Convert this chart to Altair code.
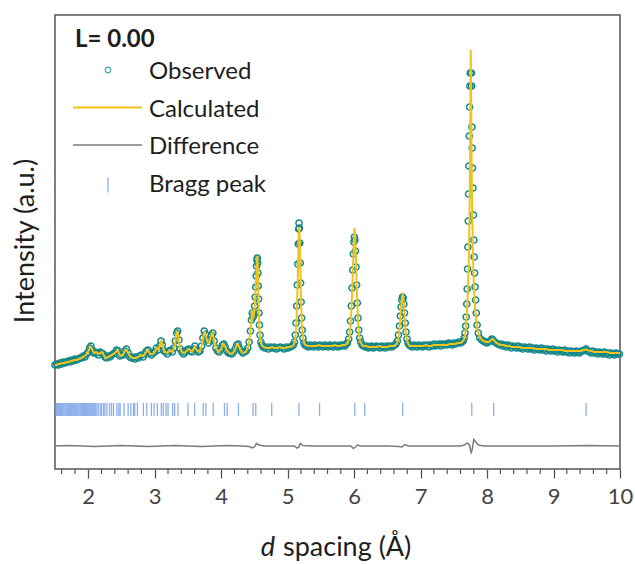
import altair as alt
import pandas as pd

# ---------------- data ----------------
# Observed points, (d spacing in Å, intensity a.u.)
obs_low = [
    (1.500, 104), (1.525, 105), (1.550, 104), (1.575, 106), (1.600, 105), (1.625, 107), (1.650, 106),
    (1.675, 107), (1.700, 108), (1.725, 107), (1.750, 109), (1.775, 108), (1.800, 110), (1.825, 109),
    (1.850, 110), (1.875, 111), (1.900, 111), (1.925, 113), (1.950, 112), (1.975, 115), (2.000, 117),
    (2.020, 121), (2.040, 123), (2.060, 119), (2.080, 116), (2.100, 117), (2.125, 116), (2.150, 114),
    (2.175, 117), (2.200, 116), (2.225, 115), (2.250, 112), (2.275, 111), (2.300, 113), (2.325, 112),
    (2.350, 114), (2.375, 115), (2.400, 116), (2.425, 119), (2.450, 118), (2.475, 113), (2.500, 114),
    (2.525, 114), (2.550, 118), (2.575, 120), (2.600, 116), (2.625, 112), (2.650, 111), (2.675, 112),
    (2.700, 110), (2.725, 112), (2.750, 111), (2.775, 113), (2.800, 114), (2.825, 112), (2.850, 115),
    (2.875, 118), (2.900, 119), (2.925, 116), (2.950, 114), (2.975, 116), (3.000, 117), (3.025, 121),
    (3.050, 119), (3.075, 123), (3.095, 128), (3.115, 124), (3.140, 118), (3.165, 117), (3.190, 115),
    (3.215, 118), (3.240, 119), (3.265, 117), (3.290, 121), (3.310, 128), (3.330, 136), (3.345, 138),
    (3.365, 129), (3.385, 120), (3.410, 117), (3.435, 115), (3.460, 117), (3.485, 119), (3.510, 120),
    (3.535, 118), (3.560, 117), (3.585, 120), (3.605, 123), (3.630, 119), (3.655, 117), (3.680, 118),
    (3.705, 123), (3.725, 131), (3.745, 138), (3.765, 135), (3.785, 129), (3.810, 126), (3.835, 129),
    (3.855, 134), (3.875, 136), (3.895, 128), (3.920, 121), (3.945, 118), (3.970, 117), (3.995, 120),
    (4.020, 124), (4.040, 125), (4.060, 122), (4.085, 118), (4.110, 116), (4.135, 116), (4.160, 115),
    (4.185, 117), (4.210, 120), (4.235, 124), (4.255, 125), (4.275, 121), (4.300, 118), (4.325, 116),
    (4.350, 117), (4.375, 118), (4.400, 121),
]
obs_peaks_a = [
    (4.420, 127), (4.440, 138), (4.455, 149), (4.468, 156), (4.480, 152), (4.492, 155), (4.503, 163),
    (4.512, 172), (4.520, 182), (4.527, 193), (4.533, 203), (4.538, 209), (4.543, 211), (4.548, 206),
    (4.553, 196), (4.558, 183), (4.563, 170), (4.569, 156), (4.576, 144), (4.585, 134), (4.597, 127),
    (4.612, 124), (4.630, 122),
    (4.655, 121), (4.680, 122), (4.710, 120), (4.740, 122), (4.770, 121), (4.800, 122), (4.830, 120),
    (4.860, 121), (4.890, 122), (4.920, 121), (4.950, 120), (4.980, 122), (5.010, 121), (5.040, 122),
    (5.065, 123),
    (5.085, 124), (5.102, 127), (5.115, 134), (5.126, 146), (5.136, 163), (5.145, 184), (5.153, 205),
    (5.160, 225), (5.166, 240), (5.171, 246), (5.177, 241), (5.183, 226), (5.189, 206), (5.195, 186),
    (5.202, 167), (5.210, 151), (5.219, 139), (5.230, 131), (5.244, 126), (5.260, 124),
]
obs_peaks_b = [
    (5.285, 123), (5.310, 122), (5.335, 124), (5.360, 123), (5.385, 122), (5.410, 124), (5.435, 123),
    (5.460, 122), (5.485, 124), (5.510, 123), (5.535, 122), (5.560, 124), (5.585, 123), (5.610, 122),
    (5.635, 124), (5.660, 123), (5.685, 122), (5.710, 124), (5.735, 123), (5.760, 122), (5.785, 124),
    (5.810, 123), (5.835, 124), (5.860, 123), (5.880, 125),
    (5.900, 126), (5.918, 130), (5.933, 137), (5.946, 148), (5.958, 163), (5.969, 181), (5.979, 199),
    (5.988, 215), (5.996, 227), (6.004, 232), (6.012, 229), (6.020, 218), (6.028, 202), (6.037, 184),
    (6.047, 166), (6.058, 151), (6.070, 139), (6.084, 131), (6.100, 127), (6.120, 124), (6.140, 123),
    (6.165, 122), (6.190, 123), (6.215, 121), (6.240, 122), (6.265, 123), (6.290, 121), (6.315, 122),
    (6.340, 123), (6.365, 122), (6.390, 121), (6.415, 123), (6.440, 122), (6.465, 121), (6.490, 123),
    (6.515, 122), (6.540, 123), (6.565, 122), (6.590, 123), (6.610, 124),
    (6.630, 125), (6.650, 128), (6.667, 134), (6.682, 143), (6.695, 153), (6.707, 162), (6.718, 169),
    (6.728, 172), (6.738, 171), (6.748, 165), (6.758, 156), (6.769, 146), (6.781, 137), (6.795, 130),
    (6.811, 126), (6.830, 124), (6.850, 123),
]
obs_peaks_c = [
    (6.875, 122), (6.900, 124), (6.925, 123), (6.950, 122), (6.975, 124), (7.000, 123), (7.025, 122),
    (7.050, 124), (7.075, 123), (7.100, 124), (7.125, 122), (7.150, 124), (7.175, 123), (7.200, 125),
    (7.225, 123), (7.250, 124), (7.275, 125), (7.300, 123), (7.325, 125), (7.350, 124), (7.375, 125),
    (7.400, 124), (7.425, 126), (7.450, 125), (7.475, 124), (7.500, 126), (7.525, 125), (7.550, 126),
    (7.575, 127), (7.600, 126), (7.620, 127),
    (7.640, 128), (7.655, 131), (7.668, 136), (7.678, 143), (7.686, 152), (7.694, 165), (7.701, 180),
    (7.707, 200), (7.712, 222), (7.717, 248), (7.722, 275), (7.727, 303), (7.732, 333), (7.737, 362),
    (7.742, 383), (7.747, 396),
    (7.765, 396), (7.768, 383), (7.772, 342), (7.776, 321), (7.781, 301), (7.787, 281), (7.794, 254),
    (7.800, 229), (7.806, 212), (7.813, 196), (7.820, 182), (7.828, 169), (7.838, 156), (7.850, 144),
    (7.868, 136), (7.890, 131), (7.920, 129),
]
obs_high = [
    (7.945, 128), (7.970, 127), (7.995, 126), (8.020, 127), (8.045, 128), (8.070, 130), (8.090, 129),
    (8.115, 127), (8.140, 126), (8.165, 125), (8.190, 124), (8.215, 125), (8.240, 123), (8.265, 124),
    (8.290, 122), (8.315, 124), (8.340, 123), (8.365, 121), (8.390, 123), (8.415, 122), (8.440, 121),
    (8.465, 123), (8.490, 121), (8.515, 122), (8.540, 120), (8.565, 122), (8.590, 121), (8.615, 120),
    (8.640, 122), (8.665, 120), (8.690, 121), (8.715, 119), (8.740, 121), (8.765, 120), (8.790, 119),
    (8.815, 121), (8.840, 119), (8.865, 120), (8.890, 118), (8.915, 120), (8.940, 119), (8.965, 118),
    (8.990, 120), (9.015, 118), (9.040, 119), (9.065, 117), (9.090, 119), (9.115, 118), (9.140, 117),
    (9.165, 119), (9.190, 117), (9.215, 118), (9.240, 116), (9.265, 118), (9.290, 117), (9.315, 116),
    (9.340, 118), (9.365, 117), (9.390, 116), (9.415, 118), (9.440, 118), (9.465, 119), (9.490, 120),
    (9.515, 118), (9.540, 117), (9.565, 116), (9.590, 118), (9.615, 116), (9.640, 117), (9.665, 115),
    (9.690, 117), (9.715, 116), (9.740, 115), (9.765, 117), (9.790, 115), (9.815, 116), (9.840, 114),
    (9.865, 116), (9.890, 115), (9.915, 114), (9.940, 116), (9.965, 115), (9.990, 115),
]

# Calculated profile
calc_low = [
    (1.50, 104), (1.53, 104.5), (1.56, 105), (1.59, 105.5), (1.62, 106), (1.65, 106), (1.68, 107),
    (1.71, 107), (1.74, 108), (1.77, 108.5), (1.80, 109), (1.83, 109), (1.86, 110), (1.89, 111),
    (1.92, 112), (1.95, 113), (1.98, 115), (2.01, 119), (2.03, 122), (2.05, 121), (2.07, 118),
    (2.09, 116), (2.12, 117), (2.15, 115), (2.18, 116), (2.21, 117), (2.24, 113), (2.27, 111),
    (2.30, 112), (2.33, 113), (2.36, 114), (2.40, 116), (2.43, 118), (2.45, 118), (2.47, 114),
    (2.50, 113), (2.53, 115), (2.56, 119), (2.58, 119), (2.61, 115), (2.64, 112), (2.67, 111),
    (2.71, 111), (2.75, 112), (2.79, 114), (2.83, 113), (2.87, 117), (2.90, 119), (2.93, 115),
    (2.97, 115), (3.00, 117), (3.03, 121), (3.06, 119), (3.08, 125), (3.10, 128), (3.12, 123),
    (3.15, 117), (3.19, 116), (3.23, 119), (3.27, 117), (3.30, 123), (3.32, 132), (3.34, 138),
    (3.36, 130), (3.38, 121), (3.41, 117), (3.44, 116), (3.48, 118), (3.52, 120), (3.56, 117),
    (3.60, 122), (3.63, 119), (3.67, 117), (3.71, 124), (3.73, 132), (3.75, 138), (3.77, 133),
    (3.79, 128), (3.82, 126), (3.85, 133), (3.87, 136), (3.89, 130), (3.92, 121), (3.96, 117),
    (4.00, 120), (4.03, 125), (4.05, 124), (4.08, 119), (4.12, 116), (4.16, 115), (4.20, 118),
    (4.23, 123), (4.25, 125), (4.27, 122), (4.30, 118), (4.33, 116), (4.37, 117), (4.40, 121),
]
calc_mid = [
    (4.42, 126), (4.44, 138), (4.455, 150), (4.465, 159), (4.475, 151), (4.49, 153), (4.505, 163),
    (4.52, 181), (4.53, 198), (4.538, 210), (4.543, 213), (4.549, 205), (4.556, 186), (4.565, 161),
    (4.575, 141), (4.59, 129), (4.61, 124), (4.64, 122),
    (4.68, 121), (4.72, 121), (4.76, 122), (4.80, 121), (4.84, 121), (4.88, 122), (4.92, 121),
    (4.96, 121), (5.00, 122), (5.04, 122), (5.07, 123),
    (5.09, 124), (5.11, 128), (5.125, 138), (5.135, 152), (5.145, 172), (5.155, 198), (5.163, 222),
    (5.169, 238), (5.173, 242), (5.178, 237), (5.185, 220), (5.192, 197), (5.20, 172), (5.21, 152),
    (5.22, 139), (5.235, 130), (5.25, 126), (5.27, 124),
    (5.31, 123), (5.35, 123), (5.39, 123), (5.43, 123), (5.47, 124), (5.51, 123), (5.55, 123),
    (5.59, 123), (5.63, 123), (5.67, 123), (5.71, 124), (5.75, 123), (5.79, 123), (5.83, 124),
    (5.87, 124),
    (5.90, 126), (5.925, 130), (5.945, 142), (5.96, 160), (5.975, 185), (5.988, 212), (5.998, 232),
    (6.006, 241), (6.014, 236), (6.024, 217), (6.035, 193), (6.047, 167), (6.06, 147), (6.075, 134),
    (6.09, 128), (6.11, 125), (6.14, 123),
    (6.18, 123), (6.22, 122), (6.26, 122), (6.30, 122), (6.34, 122), (6.38, 123), (6.42, 122),
    (6.46, 122), (6.50, 122), (6.54, 123), (6.58, 123), (6.61, 123),
    (6.64, 125), (6.66, 129), (6.68, 138), (6.695, 150), (6.708, 163), (6.72, 172), (6.73, 174),
    (6.74, 171), (6.752, 161), (6.765, 148), (6.78, 136), (6.797, 129), (6.815, 125), (6.84, 123),
]
calc_high = [
    (6.88, 123), (6.92, 123), (6.96, 123), (7.00, 123), (7.04, 123), (7.08, 124), (7.12, 123),
    (7.16, 123), (7.20, 124), (7.24, 124), (7.28, 124), (7.32, 124), (7.36, 124), (7.40, 124),
    (7.44, 125), (7.48, 125), (7.52, 125), (7.56, 126), (7.60, 126), (7.62, 127),
    (7.65, 129), (7.67, 134), (7.685, 145), (7.70, 160), (7.712, 178), (7.722, 200), (7.731, 230),
    (7.739, 270), (7.745, 315), (7.75, 365), (7.755, 419), (7.76, 375), (7.765, 325), (7.771, 285),
    (7.778, 250), (7.786, 222), (7.795, 196), (7.805, 178), (7.818, 162), (7.835, 150), (7.855, 140),
    (7.88, 134), (7.91, 130), (7.95, 128), (7.99, 127), (8.03, 127), (8.06, 129), (8.08, 130),
    (8.10, 129), (8.13, 127), (8.17, 125),
    (8.21, 124), (8.25, 124), (8.29, 123), (8.33, 123), (8.37, 122), (8.41, 122), (8.45, 122),
    (8.49, 122), (8.53, 121), (8.57, 121), (8.61, 121), (8.65, 121), (8.69, 121), (8.73, 120),
    (8.77, 120), (8.81, 120), (8.85, 120), (8.89, 120), (8.93, 119), (8.97, 119), (9.01, 119),
    (9.05, 119), (9.09, 119), (9.13, 119), (9.17, 118), (9.21, 118), (9.25, 118), (9.29, 118),
    (9.33, 118), (9.37, 118), (9.41, 118), (9.45, 119), (9.49, 119.5), (9.53, 118.5), (9.57, 118),
    (9.61, 117), (9.65, 117), (9.69, 117), (9.73, 117), (9.77, 117), (9.81, 117), (9.85, 116),
    (9.89, 116), (9.93, 116), (9.97, 116), (10.0, 116),
]

# Difference curve (observed - calculated, offset)
diff_pts = [
    (1.50, 23), (1.70, 23.5), (1.90, 23), (2.10, 22.5), (2.30, 23), (2.50, 23.5), (2.70, 23),
    (2.90, 22.5), (3.10, 23), (3.30, 23.5), (3.50, 23), (3.70, 22.5), (3.90, 23), (4.10, 23.5),
    (4.30, 23), (4.42, 22.5), (4.47, 21), (4.50, 22), (4.53, 25.5), (4.57, 24), (4.65, 23),
    (4.90, 23), (5.10, 23), (5.14, 21), (5.17, 22), (5.19, 25.5), (5.23, 23.5), (5.40, 23),
    (5.70, 23), (5.95, 23), (5.99, 20.5), (6.02, 22), (6.05, 24), (6.10, 23), (6.50, 23),
    (6.68, 22.5), (6.72, 22), (6.76, 24.5), (6.82, 23), (7.20, 23), (7.60, 23), (7.66, 24),
    (7.70, 26), (7.735, 24), (7.76, 16.5), (7.775, 19), (7.80, 29.5), (7.83, 27), (7.87, 24),
    (7.95, 23), (8.50, 23), (9.00, 23), (9.50, 23.5), (10.0, 23),
]

# Bragg peak positions (Å)
bragg_d = [
    1.52, 1.535, 1.55, 1.565, 1.58, 1.595, 1.61, 1.62, 1.635, 1.65, 1.665, 1.68, 1.69, 1.705,
    1.72, 1.735, 1.75, 1.76, 1.775, 1.79, 1.805, 1.82, 1.83, 1.845, 1.86, 1.875, 1.89, 1.90,
    1.915, 1.93, 1.945, 1.96, 1.975, 1.985, 2.0, 2.015, 2.03, 2.045, 2.06, 2.075, 2.09, 2.11,
    2.13, 2.15, 2.18, 2.20, 2.23, 2.25, 2.28, 2.32, 2.35, 2.38, 2.43, 2.46, 2.48, 2.54, 2.60,
    2.64, 2.68, 2.70, 2.74, 2.83, 2.88, 2.95, 2.99, 3.04, 3.10, 3.13, 3.17, 3.20, 3.27, 3.30,
    3.35, 3.50, 3.60, 3.73, 3.77, 3.88, 4.05, 4.09, 4.26, 4.48, 4.52, 4.76, 5.17, 5.48, 6.01,
    6.16, 6.73, 7.77, 8.10, 9.49,
]
bragg_lo, bragg_hi = 53, 66

major_ticks = [2, 3, 4, 5, 6, 7, 8, 9, 10]
minor_ticks = [1.6, 1.8, 2.2, 2.4, 2.6, 2.8, 3.2, 3.4, 3.6, 3.8, 4.2, 4.4, 4.6, 4.8,
               5.2, 5.4, 5.6, 5.8, 6.2, 6.4, 6.6, 6.8, 7.2, 7.4, 7.6, 7.8, 8.2, 8.4,
               8.6, 8.8, 9.2, 9.4, 9.6, 9.8]

legend_title = "L= 0.00"
legend_labels = ["Observed", "Calculated", "Difference", "Bragg peak"]
x_title_italic = "d"
x_title_rest = "spacing (Å)"
y_title = "Intensity (a.u.)"

# ---------------- chart ----------------
FONT = "Lato"
W, H = 565, 454
TEAL = "#148789"
GOLD = "#f2c21c"
GREY = "#7b7b7b"
BLUE = "#8eafea"
FRAME = "#555555"
TEXT = "#1e1e1e"


def frame(*segs):
    rows = [p for s in segs for p in s]
    return pd.DataFrame(rows, columns=["d", "I"])


obs = frame(obs_low, obs_peaks_a, obs_peaks_b, obs_peaks_c, obs_high)
calc = frame(calc_low, calc_mid, calc_high)
diff = frame(diff_pts)
bragg = pd.DataFrame({"d": bragg_d})
minor = pd.DataFrame({"d": minor_ticks})
one = pd.DataFrame({"k": [0]})

xscale = alt.Scale(domain=[1.5, 10], nice=False, zero=False)
yscale = alt.Scale(domain=[0, H], nice=False, zero=False)
xaxis = alt.Axis(values=major_ticks, title=None, grid=False, domain=False,
                 tickSize=9, tickWidth=1.3, tickColor=FRAME, format="d",
                 labelFont=FONT, labelFontSize=22, labelColor="#444444",
                 labelPadding=8, labelFlush=False)
X = alt.X("d:Q", scale=xscale, axis=xaxis)
Y = alt.Y("I:Q", scale=yscale, axis=None)

obs_layer = alt.Chart(obs).mark_point(shape="circle", filled=False, size=38,
                                      strokeWidth=1.5, color=TEAL, opacity=1).encode(x=X, y=Y)
calc_layer = alt.Chart(calc).mark_line(color=GOLD, strokeWidth=2).encode(x=X, y=Y)
diff_layer = alt.Chart(diff).mark_line(color=GREY, strokeWidth=1.5).encode(x=X, y=Y)
bragg_layer = alt.Chart(bragg).mark_rule(color=BLUE, strokeWidth=1.3).encode(
    x=X, y=alt.Y(datum=bragg_lo, scale=yscale, axis=None), y2=alt.datum(bragg_hi))
minor_layer = alt.Chart(minor).mark_rule(color=FRAME, strokeWidth=1.2).encode(
    x=X, y=alt.value(H), y2=alt.value(H + 5))

layers = [bragg_layer, diff_layer, obs_layer, calc_layer, minor_layer]

# legend (drawn in pixel space, top-left)
lx_text, ly0, ldy = 94, 57, 37.5
layers.append(alt.Chart(one).mark_text(text=legend_title, font=FONT, fontSize=24, fontWeight="bold",
                                       align="left", baseline="middle", color=TEXT)
              .encode(x=alt.value(20), y=alt.value(25)))
for i, lab in enumerate(legend_labels):
    layers.append(alt.Chart(one).mark_text(text=lab, font=FONT, fontSize=24, align="left",
                                           baseline="middle", color=TEXT)
                  .encode(x=alt.value(lx_text), y=alt.value(ly0 + i * ldy)))
layers.append(alt.Chart(one).mark_point(shape="circle", filled=False, size=30, strokeWidth=1.3,
                                        color=TEAL).encode(x=alt.value(53), y=alt.value(ly0 - 2)))
layers.append(alt.Chart(one).mark_rule(color=GOLD, strokeWidth=2).encode(
    x=alt.value(18), x2=alt.value(87), y=alt.value(ly0 + ldy - 2)))
layers.append(alt.Chart(one).mark_rule(color=GREY, strokeWidth=1.5).encode(
    x=alt.value(18), x2=alt.value(87), y=alt.value(ly0 + 2 * ldy - 2)))
layers.append(alt.Chart(one).mark_rule(color=BLUE, strokeWidth=1.3).encode(
    x=alt.value(53), y=alt.value(ly0 + 3 * ldy - 7), y2=alt.value(ly0 + 3 * ldy + 8)))

# axis titles
layers.append(alt.Chart(one).mark_text(text=y_title, font=FONT, fontSize=27, angle=270,
                                       align="center", baseline="middle", color=TEXT)
              .encode(x=alt.value(-29), y=alt.value(226)))
layers.append(alt.Chart(one).mark_text(text=x_title_italic, font=FONT, fontSize=27, fontStyle="italic",
                                       align="right", baseline="alphabetic", color=TEXT)
              .encode(x=alt.value(220), y=alt.value(541)))
layers.append(alt.Chart(one).mark_text(text=x_title_rest, font=FONT, fontSize=27,
                                       align="left", baseline="alphabetic", color=TEXT)
              .encode(x=alt.value(228), y=alt.value(541)))

chart = alt.layer(*layers).properties(
    width=W, height=H,
    padding={"left": 55, "top": 15, "right": 15, "bottom": 95},
    autosize=alt.AutoSizeParams(type="none"),
    background="white",
).configure_view(stroke=FRAME, strokeWidth=1.5)

chart.save("out.html", embed_options={"renderer": "svg", "actions": False})
